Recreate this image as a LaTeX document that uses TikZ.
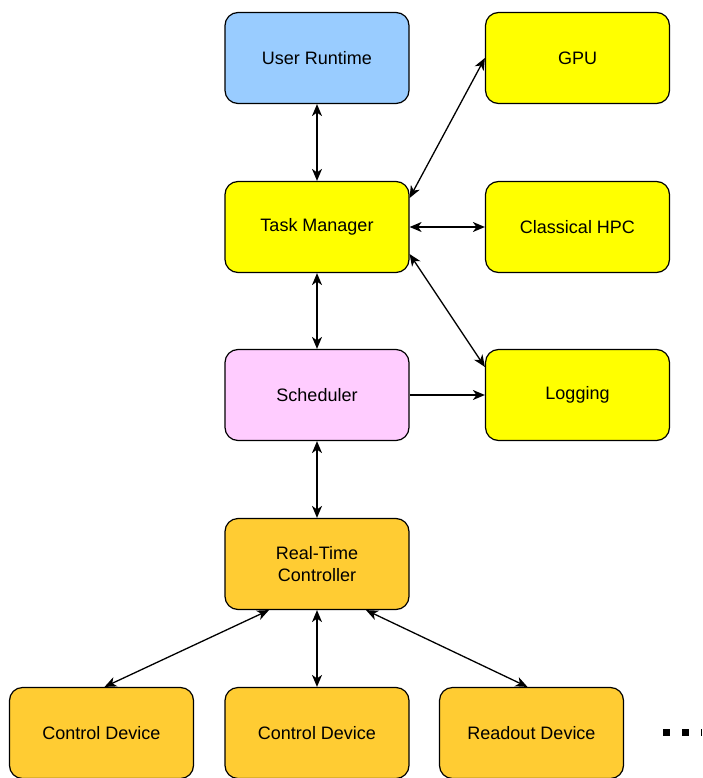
\documentclass[tikz,border=0pt]{standalone}
\usepackage{fontspec}
\setmainfont{Liberation Sans}
\usetikzlibrary{arrows.meta}
\definecolor{cblue}{HTML}{99CCFF}
\definecolor{cyel}{HTML}{FFFF00}
\definecolor{cpink}{HTML}{FFCCFF}
\definecolor{corange}{HTML}{FFCC33}
\begin{document}
\begin{tikzpicture}[x=1pt,y=-1pt,
  box/.style={draw=black,line width=1.2pt,rounded corners=13pt,minimum width=184pt,minimum height=91pt,inner sep=0pt,align=center,font=\fontsize{18}{22}\selectfont},
  tip/.tip={Stealth[length=12pt,width=10pt,inset=3.5pt]},
  con/.style={line width=1.3pt,tip-tip},
  con1/.style={line width=1.3pt,-tip}]
\useasboundingbox (0,0) rectangle (702,778);
\node[box,fill=cblue] (ur) at (317,58) {User Runtime};
\node[box,fill=cyel] (gpu) at (577.5,58) {GPU};
\node[box,fill=cyel] (tm) at (317,227) {Task Manager};
\node[box,fill=cyel] (hpc) at (577.5,227) {Classical HPC};
\node[box,fill=cpink] (sch) at (317,395) {Scheduler};
\node[box,fill=cyel] (log) at (577.5,395) {Logging};
\node[box,fill=corange] (rtc) at (317,564) {Real-Time\\Controller};
\node[box,fill=corange] (cd1) at (101.5,733) {Control Device};
\node[box,fill=corange] (cd2) at (317,733) {Control Device};
\node[box,fill=corange] (rd) at (531.5,733) {Readout Device};
\coordinate (dots0) at (663,732);
\coordinate (dots1) at (702,732);
\draw[line width=7pt,dash pattern=on 7pt off 12pt] (dots0) -- (dots1);
\draw[con] (ur) -- (tm);
\draw[con] ([yshift=29pt]tm.east) -- (gpu.west);
\draw[con] (tm) -- (hpc);
\draw[con] ([yshift=-27pt]tm.east) -- ([yshift=28pt]log.west);
\draw[con] (tm) -- (sch);
\draw[con1] (sch) -- (log);
\draw[con] (sch) -- (rtc);
\draw[con] ([xshift=-48pt]rtc.south) -- ([xshift=3pt]cd1.north);
\draw[con] (rtc) -- (cd2);
\draw[con] ([xshift=49pt]rtc.south) -- ([xshift=-4pt]rd.north);
\end{tikzpicture}
\end{document}
